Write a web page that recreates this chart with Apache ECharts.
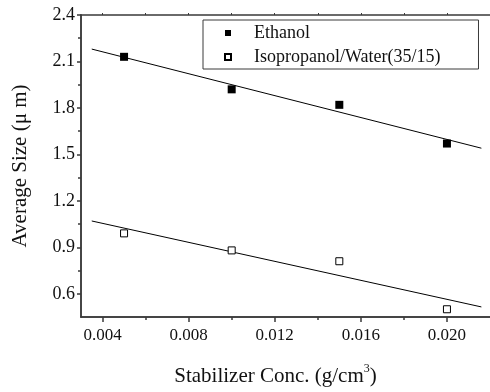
<!DOCTYPE html>
<html>
<head>
<meta charset="utf-8">
<script src="https://cdn.jsdelivr.net/npm/echarts@6/dist/echarts.min.js"></script>
<style>
  html, body { margin: 0; padding: 0; background: #fff; }
  #chart { width: 490px; height: 392px; }
</style>
</head>
<body>
<div id="chart"></div>
<script>
const concentration = [0.005, 0.010, 0.015, 0.020];
const ethanolSize = [2.13, 1.92, 1.82, 1.57];
const isoWaterSize = [0.99, 0.88, 0.81, 0.50];

// fitted lines, endpoints as drawn
const fitX = [0.0035, 0.0216];
const ethanolFit = [2.18, 1.54];
const isoWaterFit = [1.07, 0.515];

// tick positions
const xMajor = [0.004, 0.008, 0.012, 0.016, 0.020];
const xMinor = [0.006, 0.010, 0.014, 0.018];
const yMajor = [0.6, 0.9, 1.2, 1.5, 1.8, 2.1, 2.4];
const yMinor = [0.75, 1.05, 1.35, 1.65, 1.95, 2.25];

const FONT = '"Liberation Serif", "Times New Roman", serif';
const AXIS = '#3a3a3a';
const TEXT = '#111';

const pairs = (xs, ys) => xs.map((x, i) => [x, ys[i]]);

function xAxisBase(extra) {
  return Object.assign({
    type: 'value',
    min: 0.003,
    max: 0.022,
    position: 'bottom',
    splitLine: { show: false },
    axisLine: { lineStyle: { color: AXIS, width: 1.5 } },
    axisLabel: { show: false },
  }, extra);
}

function yAxisBase(extra) {
  return Object.assign({
    type: 'value',
    min: 0.45,
    max: 2.4,
    position: 'left',
    splitLine: { show: false },
    axisLine: { lineStyle: { color: AXIS, width: 1.5 } },
    axisLabel: { show: false },
  }, extra);
}

const chart = echarts.init(document.getElementById('chart'), null, { renderer: 'canvas' });

chart.setOption({
  animation: false,
  backgroundColor: '#fff',
  grid: { left: 81, top: 15, right: -6, bottom: 73, containLabel: false },
  legend: {
    data: ['Ethanol', 'Isopropanol/Water(35/15)'],
    orient: 'vertical',
    left: 203,
    top: 20,
    padding: [3, 38, 2, 21],
    itemGap: 4,
    itemWidth: 6,
    itemHeight: 6,
    borderColor: AXIS,
    borderWidth: 1,
    backgroundColor: '#fff',
    textStyle: { fontFamily: FONT, fontSize: 18, color: TEXT, lineHeight: 20, padding: [0, 0, 0, 18] },
  },
  xAxis: [
    xAxisBase({
      name: 'Stabilizer Conc. (g/cm{sup|3})',
      nameLocation: 'middle',
      nameGap: 46,
      nameTextStyle: {
        fontFamily: FONT, fontSize: 21, color: TEXT, padding: [0, 20, 0, 0],
        rich: { sup: { fontFamily: FONT, fontSize: 12, color: TEXT, verticalAlign: 'top', padding: [0, 0, 15, 0] } },
      },
      axisTick: { customValues: xMajor, length: 5, lineStyle: { color: AXIS, width: 1.5 } },
      axisLabel: {
        customValues: xMajor, margin: 10,
        fontFamily: FONT, fontSize: 17, color: TEXT,
        formatter: (v) => v.toFixed(3),
      },
    }),
    xAxisBase({
      axisTick: { customValues: xMinor, length: 3, lineStyle: { color: AXIS, width: 1.5 } },
    }),
    xAxisBase({
      position: 'top',
      axisTick: { customValues: xMajor.concat(xMinor), length: 2, lineStyle: { color: AXIS, width: 1 } },
    }),
  ],
  yAxis: [
    yAxisBase({
      name: 'Average Size (μ m)',
      nameLocation: 'middle',
      nameGap: 50,
      nameTextStyle: { fontFamily: FONT, fontSize: 21, color: TEXT },
      axisTick: { customValues: yMajor, length: 4, lineStyle: { color: AXIS, width: 1.5 } },
      axisLabel: {
        customValues: yMajor, margin: 6,
        fontFamily: FONT, fontSize: 18, color: TEXT,
        formatter: (v) => v.toFixed(1),
      },
    }),
    yAxisBase({
      axisTick: { customValues: yMinor, length: 3, lineStyle: { color: AXIS, width: 1.5 } },
    }),
  ],
  series: [
    {
      name: 'Ethanol',
      type: 'scatter',
      data: pairs(concentration, ethanolSize),
      symbol: 'rect',
      symbolSize: 8,
      itemStyle: { color: '#000', opacity: 1 },
      z: 3,
    },
    {
      name: 'Isopropanol/Water(35/15)',
      type: 'scatter',
      data: pairs(concentration, isoWaterSize),
      symbol: 'rect',
      symbolSize: 7,
      itemStyle: { color: '#fff', borderColor: '#000', borderWidth: 1, opacity: 1 },
      z: 3,
    },
    {
      name: 'ethanol-fit',
      type: 'line',
      data: pairs(fitX, ethanolFit),
      showSymbol: false,
      lineStyle: { color: '#000', width: 1 },
      z: 2,
    },
    {
      name: 'iso-fit',
      type: 'line',
      data: pairs(fitX, isoWaterFit),
      showSymbol: false,
      lineStyle: { color: '#000', width: 1 },
      z: 2,
    },
  ],
});
</script>
</body>
</html>
